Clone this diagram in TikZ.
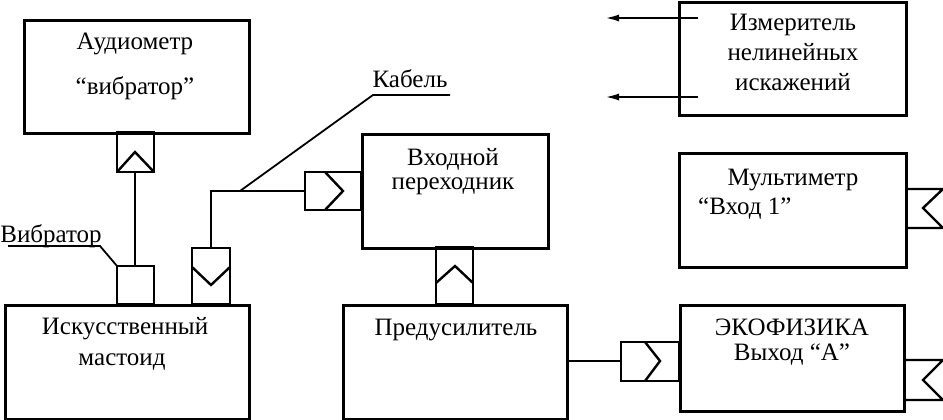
\documentclass[tikz,border=0pt]{standalone}
\usepackage{fontspec}
\setmainfont{Liberation Serif}
\usetikzlibrary{arrows.meta}
\begin{document}
\begin{tikzpicture}[x=1pt,y=-1pt,
  box/.style={draw,line width=3pt,inner sep=0pt,anchor=north west},
  conn/.style={line width=2.4pt,line join=miter},
  thin/.style={line width=1.8pt},
  lbl/.style={font=\fontsize{25}{29}\selectfont,inner sep=0pt,anchor=base},
  arr/.style={line width=2.2pt,-{Latex[length=14pt,width=7pt]}}]
\useasboundingbox (0,0) rectangle (943,420);
% boxes
\node[box,minimum width=225pt,minimum height=113pt] (aud) at (23,19) {};
\node[box,minimum width=244pt,minimum height=114pt] (mast) at (4,304) {};
\node[box,minimum width=186pt,minimum height=114pt] (vhod) at (361,133) {};
\node[box,minimum width=224pt,minimum height=114pt] (pre) at (342,304) {};
\node[box,minimum width=227pt,minimum height=112pt] (izm) at (678,1.5) {};
\node[box,minimum width=227pt,minimum height=114pt] (mult) at (678,152) {};
\node[box,minimum width=224pt,minimum height=106pt] (eko) at (679,304) {};
% texts
\node[lbl] (t1) at (135,50) {Аудиометр};
\node[lbl] (t2) at (135,95) {“вибратор”};
\node[lbl] (t3) at (51,242) {Вибратор};
\node[lbl] (t4) at (410,88) {Кабель};
\node[lbl] (t5) at (453,165) {Входной};
\node[lbl] (t6) at (453,189) {переходник};
\node[lbl] (t7) at (125,334) {Искусственный};
\node[lbl] (t8) at (122,365) {мастоид};
\node[lbl] (t9) at (456,335) {Предусилитель};
\node[lbl] (t10) at (792,335) {ЭКОФИЗИКА};
\node[lbl] (t11) at (792,360) {Выход “А”};
\node[lbl] (t12) at (793,185) {Мультиметр};
\node[lbl,anchor=base west] (t13) at (698,214) {“Вход 1”};
\node[lbl] (t14) at (793,31) {Измеритель};
\node[lbl] (t15) at (793,61) {нелинейных};
\node[lbl] (t16) at (793,91) {искажений};
% connector coordinates
\coordinate (c1a) at (117,132); \coordinate (c1b) at (154,172);
\coordinate (vba) at (117,266); \coordinate (vbb) at (154,304);
\coordinate (c2a) at (192,248); \coordinate (c2b) at (230,304);
\coordinate (c3a) at (305,172); \coordinate (c3b) at (361,210);
\coordinate (c4a) at (436,247); \coordinate (c4b) at (473,304);
\coordinate (c5a) at (621,342); \coordinate (c5b) at (679,381);
% connectors
\draw[conn] (c1a) rectangle (c1b);
\draw[conn] (117,172) -- (135,152) -- (154,172);
\draw[conn] (vba) rectangle (vbb);
\draw[conn] (c2a) rectangle (c2b);
\draw[conn] (192,267) -- (211,285) -- (230,267);
\draw[conn] (c3a) rectangle (c3b);
\draw[conn] (325,172) -- (343,191) -- (325,210);
\draw[conn] (c4a) rectangle (c4b);
\draw[conn] (436,283) -- (455,266) -- (473,283);
\draw[conn] (c5a) rectangle (c5b);
\draw[conn] (645,342) -- (660,361) -- (645,381);
% right flags
\coordinate (m1) at (905,189); \coordinate (m2) at (905,228);
\draw[conn] (m1) -- (943,189) -- (923,208) -- (943,228) -- (m2);
\coordinate (e1) at (903,360); \coordinate (e2) at (903,400);
\draw[conn] (e1) -- (943,360) -- (923,380) -- (943,400) -- (e2);
% wires
\coordinate (vtop) at (135,266); \coordinate (c1m) at (135,172);
\draw[line width=1.3pt] (c1m) -- (vtop);
\coordinate (c2m) at (211,248); \coordinate (cj) at (211,191); \coordinate (c3m) at (305,191);
\draw[conn] (c2m) -- (cj) -- (c3m);
\coordinate (kb1) at (373,95); \coordinate (kb2) at (450,95); \coordinate (kbj) at (240,191);
\draw[thin] (kb2) -- (kb1) -- (kbj);
\coordinate (vl1) at (8,246); \coordinate (vl2) at (100,246); \coordinate (vlj) at (117,266);
\draw[thin] (vl1) -- (vl2) -- (vlj);
\coordinate (pe1) at (566,361); \coordinate (pe2) at (621,361);
\draw[conn] (pe1) -- (pe2);
\coordinate (a1s) at (698,18); \coordinate (a1e) at (605,18);
\coordinate (a2s) at (698,97); \coordinate (a2e) at (605,97);
\draw[arr] (a1s) -- (a1e);
\draw[arr] (a2s) -- (a2e);
\end{tikzpicture}
\end{document}
